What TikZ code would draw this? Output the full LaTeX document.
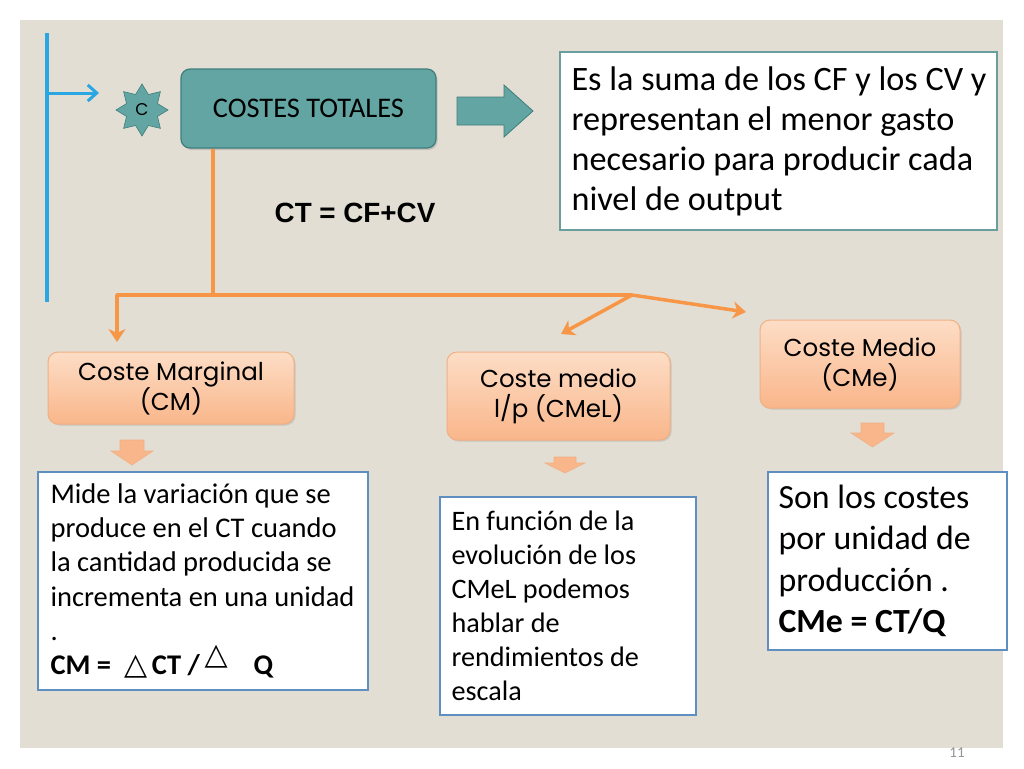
\documentclass[tikz,border=0pt]{standalone}
\usepackage{fontspec}
\setmainfont{Carlito}
\newfontfamily\gothic{Poppins}
\newfontfamily\arialf{Liberation Sans}
\newfontfamily\dejavu{DejaVu Sans}
\usetikzlibrary{shapes.geometric,arrows.meta,shadows}
\definecolor{panel}{HTML}{E3DED4}
\definecolor{tealf}{HTML}{62A5A2}
\definecolor{teald}{HTML}{3F7E7C}
\definecolor{orln}{HTML}{F79646}
\definecolor{ortop}{HTML}{FDDDC6}
\definecolor{orbot}{HTML}{F9B68A}
\definecolor{orbd}{HTML}{F0B084}
\definecolor{blueln}{HTML}{2AA6E2}
\definecolor{boxbd}{HTML}{5F8FC0}
\definecolor{boxbd2}{HTML}{6A9E9C}
\tikzset{
  orbox/.style={draw=orbd, line width=1pt, rounded corners=10, top color=ortop, bottom color=orbot,
    minimum width=#1, inner sep=0pt, align=center, font=\gothic\fontsize{24.5}{30}\selectfont,
    drop shadow={opacity=0.25, shadow xshift=1.5pt, shadow yshift=-1.5pt}},
  wbox/.style={draw=boxbd, line width=1.3pt, fill=white, inner sep=0pt},
  wtext/.style={anchor=west, align=left, inner sep=0pt},
  olink/.style={draw=orln, line width=3.5pt},
  otip/.style={-{Stealth[length=13pt,width=17pt,inset=4pt]}},
  downarr/.style={fill=orbot, draw=orbd, line width=0.6pt}
}
\begin{document}
\begin{tikzpicture}[x=1pt,y=-1pt]
\useasboundingbox (0,0) rectangle (1024,768);
\fill[white] (0,0) rectangle (1024,768);
\fill[panel] (20,20) rectangle (1003,748);
\node[text=gray!85, font=\fontsize{15}{15}\selectfont] (pg) at (957,753) {11};

% blue line and arrow
\coordinate (bt) at (47,33);
\coordinate (bb) at (47,302);
\coordinate (ba) at (48,93);
\coordinate (bh) at (99,93);
\draw[blueln, line width=3.5pt] (bt) -- (bb);
\draw[blueln, line width=3pt, -{Straight Barb[length=9pt,width=16pt]}] (ba) -- (bh);

% star
\node[star, star points=8, star point ratio=1.55, minimum size=52pt, inner sep=0pt,
  fill=tealf, draw=teald, line width=0.6pt] (st) at (142,110) {};
\node[font=\gothic\fontsize{17}{17}\selectfont] (stc) at (st.center) {C};

% costes totales
\node[draw=teald, line width=1.2pt, fill=tealf, rounded corners=9, minimum width=255pt, minimum height=79pt,
  font=\fontsize{28.4}{30}\selectfont, drop shadow={opacity=0.3, shadow xshift=1.5pt, shadow yshift=-2pt}]
  (ct) at (308.5,108.5) {COSTES TOTALES};

% block arrow
\draw[fill=tealf, draw=teald, line width=0.8pt] (457,97) -- (504,97) -- (504,85) -- (533,111) -- (504,137) -- (504,125) -- (457,125) -- cycle;
\coordinate (ba2) at (533,111);

% top right text box
\node[wbox, draw=boxbd2, minimum width=437pt, minimum height=178pt] (def) at (778.5,141) {};
\node[wtext, font=\fontsize{34.2}{40}\selectfont] (deft) at ([xshift=12pt]def.west) {Es la suma de los CF y los CV y\\representan el menor gasto\\necesario para producir cada\\nivel de output};

% formula
\node[font=\arialf\bfseries\fontsize{27.8}{30}\selectfont] (ctf) at (355,213) {CT = CF+CV};

% orange boxes
\node[orbox=246pt, minimum height=72pt] (cm) at (171,388) {Coste Marginal\\(CM)};
\node[orbox=223pt, minimum height=88pt] (cml) at (558.5,396) {Coste medio\\l/p (CMeL)};
\node[orbox=200pt, minimum height=88pt] (cme) at (860,364) {Coste Medio\\(CMe)};

% orange connectors
\coordinate (j1) at (213,295);
\coordinate (jl) at (117,295);
\coordinate (jr) at (632,295);
\coordinate (tl) at (117,342);
\coordinate (tm) at (561,334);
\coordinate (tr) at (746,312);
\draw[olink] (ct.south -| j1) -- (j1);
\draw[olink, otip, line join=round] (jr) -- (jl) -- (tl);
\draw[olink, otip] (jr) -- (tm);
\draw[olink, otip] (jr) -- (tr);

% small down arrows
\draw[downarr] (120,440) -- (144,440) -- (144,451) -- (153,451) -- (132,465) -- (111,451) -- (120,451) -- cycle;
\draw[downarr] (554,457) -- (576,457) -- (576,463) -- (585,463) -- (565,473) -- (545,463) -- (554,463) -- cycle;
\draw[downarr] (861,423) -- (884,423) -- (884,433) -- (894,433) -- (872.5,447) -- (851,433) -- (861,433) -- cycle;

% bottom text boxes
\node[wbox, minimum width=330pt, minimum height=218pt] (b1) at (203,581) {};
\node[wtext, font=\fontsize{28.5}{34.2}\selectfont] (b1t) at ([xshift=13pt]b1.west) {Mide la variación que se\\produce en el CT cuando\\la cantidad producida se\\incrementa en una unidad\\.\\\textbf{CM = \ {\dejavu\fontsize{30}{30}\selectfont △}\,CT /\,\raisebox{10pt}{\dejavu\fontsize{30}{30}\selectfont △}\ \ \ \ Q}};

\node[wbox, minimum width=256pt, minimum height=218pt] (b2) at (568,606) {};
\node[wtext, font=\fontsize{28.2}{34}\selectfont] (b2t) at ([xshift=12pt]b2.west) {En función de la\\evolución de los\\CMeL podemos\\hablar de\\rendimientos de\\escala};

\node[wbox, minimum width=239pt, minimum height=178pt] (b3) at (887.5,561) {};
\node[wtext, font=\fontsize{33.8}{41.3}\selectfont] (b3t) at ([xshift=11pt]b3.west) {Son los costes\\por unidad de\\producción .\\\textbf{CMe = CT/Q}};
\end{tikzpicture}
\end{document}
